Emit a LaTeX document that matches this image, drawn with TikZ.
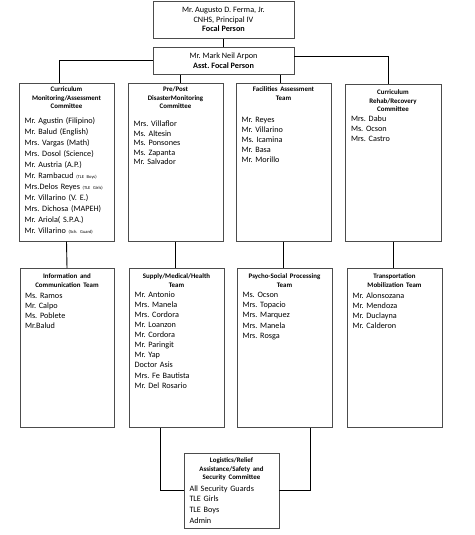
\documentclass[tikz,border=0pt]{standalone}
\usepackage{fontspec}
\setmainfont{Carlito}
\usetikzlibrary{positioning, calc}
\setlength{\parindent}{0pt}
\frenchspacing
\newcommand{\hdfont}{\fontsize{6.9}{8.5}\selectfont\bfseries}
\newcommand{\hd}[1]{{\centering\hdfont #1\par}\raggedright}
\newcommand{\smnote}[1]{{\fontsize{4.5}{5}\selectfont #1}}

\begin{document}
\begin{tikzpicture}[
    x=1pt, y=-1pt,
    box/.style={draw=black!70, line width=0.6pt, rectangle, anchor=north, inner sep=0pt},
    head/.style={box, minimum width=141pt, align=center},
    col/.style={box, minimum width=95pt, minimum height=158pt},
    lst/.style={anchor=north, text width=84pt, align=left, inner sep=0pt},
    link/.style={draw, line width=0.9pt}
]
    \useasboundingbox (0,0) rectangle (474,535);

    % ===============================
    % 1. FOCAL PERSONS
    % ===============================
    \node[head, minimum height=37pt, font=\fontsize{8.2}{9.5}\selectfont] (focal) at (223.5, 1)
        {Mr. Augusto D. Ferma, Jr.\\CNHS, Principal IV\\\textbf{Focal Person}};
    \node[head, minimum height=27pt, font=\fontsize{8.2}{9.5}\selectfont] (asst) at (223.5, 47)
        {Mr. Mark Neil Arpon\\\textbf{Asst. Focal Person}};

    % ===============================
    % 2. FIRST ROW OF COMMITTEES
    % ===============================
    \node[col] (cmac) at (66.5, 83) {};
    \node[col] (ppdm) at (175.5, 83) {};
    \node[col] (fat) at (283.5, 83) {};
    \node[col, minimum width=96pt, minimum height=157pt] (crrc) at (393, 84) {};

    \node[lst, font=\fontsize{8.2}{11}\selectfont] (cmacL) at ([yshift=-3.6pt]cmac.north)
        {\hd{Curriculum\\Monitoring/Assessment\\Committee}\vspace{4pt}
         Mr. Agustin (Filipino)\\Mr. Balud (English)\\Mrs. Vargas (Math)\\Mrs. Dosol (Science)\\
         Mr. Austria (A.P.)\\Mr. Rambacud \smnote{(TLE Boys)}\\Mrs.Delos Reyes \smnote{(TLE Girls)}\\
         Mr. Villarino (V. E.)\\Mrs. Dichosa (MAPEH)\\Mr. Ariola( S.P.A.)\\Mr. Villarino \smnote{(Sch. Guard)}};
    \node[lst, font=\fontsize{8.2}{9.5}\selectfont] (ppdmL) at ([yshift=-3.6pt]ppdm.north)
        {\hd{Pre/Post\\DisasterMonitoring\\Committee}\vspace{8.5pt}
         Mrs. Villaflor\\Ms. Altesin\\Ms. Ponsones\\Ms. Zapanta\\Mr. Salvador};
    \node[lst, font=\fontsize{8.2}{10}\selectfont] (fatL) at ([yshift=-3.6pt]fat.north)
        {\hd{Facilities Assessment\\Team}\vspace{12.5pt}
         Mr. Reyes\\Mr. Villarino\\Ms. Icamina\\Mr. Basa\\Mr. Morillo};
    \node[lst, font=\fontsize{8.2}{10}\selectfont] (crrcL) at ([yshift=-5.6pt]crrc.north)
        {\hd{Curriculum\\Rehab/Recovery\\Committee}
         Mrs. Dabu\\Ms. Ocson\\Mrs. Castro};

    % ===============================
    % 3. SECOND ROW OF TEAMS
    % ===============================
    \node[col, minimum width=94pt, minimum height=159pt] (ict) at (67, 268) {};
    \node[col, minimum height=159pt] (smh) at (176.5, 268) {};
    \node[col, minimum height=159pt] (psp) at (284.5, 268) {};
    \node[col, minimum height=159pt] (tmt) at (394.5, 268) {};

    \node[lst, font=\fontsize{8.2}{10}\selectfont] (ictL) at ([yshift=-5.6pt]ict.north)
        {\hd{Information and\\Communication Team}\vspace{1pt}
         Ms. Ramos\\Mr. Calpo\\Ms. Poblete\\Mr.Balud};
    \node[lst, font=\fontsize{8.2}{10.1}\selectfont] (smhL) at ([yshift=-5.6pt]smh.north)
        {\hd{Supply/Medical/Health\\Team}
         Mr. Antonio\\Mrs. Manela\\Mrs. Cordora\\Mr. Loanzon\\Mr. Cordora\\Mr. Paringit\\
         Mr. Yap\\Doctor Asis\\Mrs. Fe Bautista\\Mr. Del Rosario};
    \node[lst, font=\fontsize{8.2}{10.25}\selectfont] (pspL) at ([yshift=-5.6pt]psp.north)
        {\hd{Psycho-Social Processing\\Team}
         Ms. Ocson\\Mrs. Topacio\\Mrs. Marquez\\Mrs. Manela\\Mrs. Rosga};
    \node[lst, font=\fontsize{8.2}{10}\selectfont] (tmtL) at ([yshift=-5.6pt]tmt.north)
        {\hd{Transportation\\Mobilization Team}\vspace{1pt}
         Mr. Alonsozana\\Mr. Mendoza\\Mr. Duclayna\\Mr. Calderon};

    % ===============================
    % 4. LOGISTICS
    % ===============================
    \node[box, minimum width=95pt, minimum height=75pt] (logi) at (231.5, 453) {};
    \node[lst, font=\fontsize{8.2}{10.7}\selectfont] (logiL) at ([yshift=-4.6pt]logi.north)
        {\hd{Logistics/Relief\\Assistance/Safety and\\Security Committee}\vspace{0.8pt}
         All Security Guards\\TLE Girls\\TLE Boys\\Admin};

    % ===============================
    % 5. CONNECTORS
    % ===============================
    \coordinate (ppIn) at ([xshift=4.5pt]ppdm.north);
    \coordinate (faIn) at ([xshift=-3.5pt]fat.north);
    \coordinate (smOut) at ([xshift=-16.5pt]smh.south);
    \coordinate (psOut) at ([xshift=25.5pt]psp.south);

    \draw[link] (focal.south) -- (asst.north);
    \draw[link] (asst.west) -| ([xshift=-7.5pt]cmac.north);
    \draw[link] ([yshift=4.5pt]asst.east) -| ([xshift=-5pt]crrc.north);
    \draw[link] (ppIn |- asst.south) -- (ppIn);
    \draw[link] (faIn |- asst.south) -- (faIn);

    \draw[link] (cmac.south) -- (ict.north);
    \draw[link] (ppdm.south) -- (ppdm.south |- smh.north);
    \draw[link] (fat.south) -- (fat.south |- psp.north);
    \draw[link] (crrc.south) -- (crrc.south |- tmt.north);

    \draw[link] (smOut) |- (logi.west);
    \draw[link] (psOut) |- (logi.east);

\end{tikzpicture}
\end{document}
